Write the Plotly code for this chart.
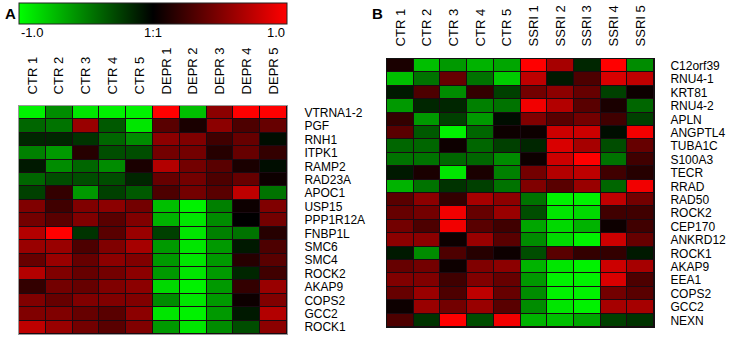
import plotly.graph_objects as go

W, H = 737, 337

# ---------------- Panel A data ----------------
cols_a = ["CTR 1", "CTR 2", "CTR 3", "CTR 4", "CTR 5",
          "DEPR 1", "DEPR 2", "DEPR 3", "DEPR 4", "DEPR 5"]
genes_a = ["VTRNA1-2", "PGF", "RNH1", "ITPK1", "RAMP2", "RAD23A", "APOC1",
           "USP15", "PPP1R12A", "FNBP1L", "SMC6", "SMC4", "ROCK2", "AKAP9",
           "COPS2", "GCC2", "ROCK1"]
vals_a = [
    [-0.95, -0.55, -0.9, -0.95, -0.95, 1.0, -0.75, 0.55, 1.0, 1.0],
    [-0.4, -0.45, 0.6, -0.35, -0.9, 0.35, 0.1, 0.55, 0.3, 0.4],
    [-0.15, -0.15, -0.2, -0.4, -0.55, 0.55, 0.5, 0.25, 0.4, -0.05],
    [-0.5, -0.6, 0.15, -0.3, -0.3, 0.45, 0.45, 0.15, 0.4, 0.2],
    [-0.1, -0.55, -0.4, -0.55, 0.1, 0.7, 0.45, 0.35, 0.1, -0.05],
    [-0.4, -0.3, -0.3, -0.3, -0.15, 0.4, 0.45, 0.3, 0.4, 0.05],
    [-0.25, 0.2, -0.6, -0.25, -0.35, 0.3, 0.45, 0.35, 0.75, -0.45],
    [0.5, 0.25, 0.5, 0.55, 0.45, -0.75, -0.95, -0.5, 0.05, 0.5],
    [0.45, 0.35, 0.5, 0.35, 0.5, -0.7, -0.9, -0.55, 0.0, 0.45],
    [0.7, 1.0, -0.2, 0.35, 0.6, -0.25, -0.9, -0.5, -0.45, 0.15],
    [0.6, 0.6, 0.3, 0.5, 0.65, -0.6, -0.9, -0.6, -0.1, 0.3],
    [0.4, 0.6, 0.4, 0.55, 0.5, -0.6, -0.9, -0.6, 0.15, 0.35],
    [0.7, 0.5, 0.4, 0.45, 0.55, -0.6, -0.9, -0.6, -0.15, 0.25],
    [0.2, 0.45, 0.4, 0.5, 0.55, -0.85, -0.95, -0.6, 0.2, 0.6],
    [0.5, 0.4, 0.5, 0.5, 0.5, -0.55, -0.9, -0.6, 0.05, 0.5],
    [0.5, 0.5, 0.4, 0.35, 0.55, -0.9, -0.95, -0.6, -0.1, 0.7],
    [0.75, 0.6, 0.45, 0.35, 0.5, -0.6, -0.9, -0.55, -0.3, 0.55],
]

# ---------------- Panel B data ----------------
cols_b = ["CTR 1", "CTR 2", "CTR 3", "CTR 4", "CTR 5",
          "SSRI 1", "SSRI 2", "SSRI 3", "SSRI 4", "SSRI 5"]
genes_b = ["C12orf39", "RNU4-1", "KRT81", "RNU4-2", "APLN", "ANGPTL4",
           "TUBA1C", "S100A3", "TECR", "RRAD", "RAD50", "ROCK2", "CEP170",
           "ANKRD12", "ROCK1", "AKAP9", "EEA1", "COPS2", "GCC2", "NEXN"]
vals_b = [
    [0.1, -0.75, -0.6, -0.7, -0.65, 1.0, 0.65, -0.15, 1.0, -0.55],
    [-0.75, -0.45, 0.4, -0.45, -0.8, 0.75, -0.1, 0.3, 0.85, 0.75],
    [-0.1, 0.3, -0.55, 0.2, -0.25, 0.45, 0.55, 0.4, -0.25, 0.05],
    [-0.6, -0.15, -0.15, -0.5, -0.45, 0.95, 0.7, 0.35, 0.1, -0.4],
    [0.2, -0.6, -0.25, -0.6, -0.05, 0.5, 0.35, 0.45, 0.25, -0.25],
    [0.35, -0.35, -0.95, -0.4, 0.05, 0.05, 0.8, 0.8, -0.05, 0.95],
    [-0.4, -0.4, 0.05, -0.4, -0.25, -0.15, 0.85, 0.65, -0.3, 0.4],
    [-0.45, -0.45, -0.4, -0.4, -0.55, 0.05, 0.8, 1.0, -0.45, 0.25],
    [-0.1, 0.1, -0.9, 0.1, -0.5, 0.45, 0.7, 0.75, 0.25, 0.15],
    [-0.7, -0.45, -0.2, -0.25, -0.45, 0.5, 0.35, 0.6, -0.4, 0.95],
    [0.35, 0.55, 0.2, 0.65, 0.55, -0.45, -0.95, -0.95, 0.75, 0.45],
    [0.4, 0.45, 0.95, 0.4, 0.6, -0.3, -0.9, -0.85, 0.25, 0.25],
    [0.45, 0.3, 0.95, 0.35, 0.25, -0.65, -0.85, -0.7, 0.05, 0.25],
    [0.55, 0.55, 0.05, 0.6, 0.35, -0.55, -0.85, -0.95, 0.8, 0.4],
    [-0.1, -0.55, 0.3, 0.15, 0.05, -0.3, 0.35, 0.2, 0.2, -0.1],
    [0.4, 0.45, 0.05, 0.5, 0.55, -0.7, -0.9, -0.95, 0.8, 0.65],
    [0.5, 0.5, 0.25, 0.5, 0.4, -0.6, -0.95, -0.95, 0.85, 0.3],
    [0.4, 0.6, 0.3, 0.75, 0.4, -0.55, -0.95, -0.95, 0.45, 0.35],
    [0.05, 0.6, 0.45, 0.6, 0.35, -0.55, -0.9, -0.95, 0.65, 0.65],
    [0.3, -0.2, 1.0, -0.3, 0.95, -0.7, -0.75, -0.65, -0.25, -0.2],
]

scale_ticks = [-1.0, 0.0, 1.0]
scale_labels = ["-1.0", "1:1", "1.0"]

cscale = [[0.0, "#00ff00"], [0.5, "#000000"], [1.0, "#ff0000"]]
FONT = "Liberation Sans, Arial, sans-serif"


def px_x(p):
    return p / W


def px_y(p):
    return 1 - p / H


fig = go.Figure()

fig.add_trace(go.Heatmap(
    z=vals_a, x=cols_a, y=genes_a, colorscale=cscale, zmin=-1, zmax=1,
    xgap=1, ygap=1, xaxis="x", yaxis="y",
    colorbar=dict(
        orientation="h", lenmode="pixels", len=268, thickness=21,
        x=px_x(19), xanchor="left", y=px_y(3), yanchor="top",
        xpad=0, ypad=0, outlinewidth=1, outlinecolor="#222",
        showticklabels=False, ticks="",
    ),
))

fig.add_trace(go.Heatmap(
    z=vals_b, x=cols_b, y=genes_b, colorscale=cscale, zmin=-1, zmax=1,
    xgap=1, ygap=1, xaxis="x2", yaxis="y2", showscale=False,
))

tickfont = dict(family=FONT, size=12, color="black")
colfont = dict(family=FONT, size=13, color="black")

fig.update_layout(
    width=W, height=H, margin=dict(l=0, r=0, t=0, b=0),
    paper_bgcolor="white", plot_bgcolor="#1a0a12",
    font=dict(family=FONT, color="black"),
    showlegend=False,
    xaxis=dict(domain=[px_x(19), px_x(287)], side="top", tickangle=-90,
               tickfont=colfont, ticks="outside", ticklen=8,
               tickcolor="rgba(0,0,0,0)", showgrid=False, zeroline=False,
               showline=True, mirror=True, linecolor="#999", linewidth=1,
               anchor="y", fixedrange=True,
               tickmode="array", tickvals=cols_a),
    yaxis=dict(domain=[px_y(334), px_y(106)], side="right",
               autorange="reversed", tickfont=tickfont, ticks="outside",
               ticklen=14, tickcolor="rgba(0,0,0,0)", showgrid=False,
               zeroline=False, showline=True, mirror=True, linecolor="#999",
               linewidth=1, anchor="x", fixedrange=True,
               tickmode="array", tickvals=genes_a),
    xaxis2=dict(domain=[px_x(387), px_x(654)], side="top", tickangle=-90,
                tickfont=colfont, ticks="outside", ticklen=9,
                tickcolor="rgba(0,0,0,0)", showgrid=False, zeroline=False,
                showline=True, mirror=True, linecolor="#111", linewidth=1,
                anchor="y2", fixedrange=True,
                tickmode="array", tickvals=cols_b),
    yaxis2=dict(domain=[px_y(327), px_y(59)], side="right",
                autorange="reversed", tickfont=tickfont, ticks="outside",
                ticklen=13, tickcolor="rgba(0,0,0,0)", showgrid=False,
                zeroline=False, showline=True, mirror=True, linecolor="#111",
                linewidth=1, anchor="x2", fixedrange=True,
                tickmode="array", tickvals=genes_b),
)

annotations = []
# colour scale labels
cb_left, cb_right = 19, 287
for v, t in zip(scale_ticks, scale_labels):
    frac = (v - scale_ticks[0]) / (scale_ticks[-1] - scale_ticks[0])
    xp = cb_left + frac * (cb_right - cb_left)
    anchor = "left" if frac == 0 else ("right" if frac == 1 else "center")
    annotations.append(dict(
        x=px_x(xp), y=px_y(33), xref="paper", yref="paper", text=t,
        showarrow=False, xanchor=anchor, yanchor="middle",
        font=dict(family=FONT, size=13, color="black")))

annotations.append(dict(x=px_x(3), y=px_y(13), xref="paper", yref="paper",
                        text="<b>A</b>", showarrow=False, xanchor="left",
                        yanchor="middle",
                        font=dict(family=FONT, size=15, color="black")))
annotations.append(dict(x=px_x(370), y=px_y(13), xref="paper", yref="paper",
                        text="<b>B</b>", showarrow=False, xanchor="left",
                        yanchor="middle",
                        font=dict(family=FONT, size=15, color="black")))
fig.update_layout(annotations=annotations)

fig.write_html(
    "out.html",
    config={"displayModeBar": False},
    post_script="document.body.style.margin='0';document.body.style.padding='0';",
)
